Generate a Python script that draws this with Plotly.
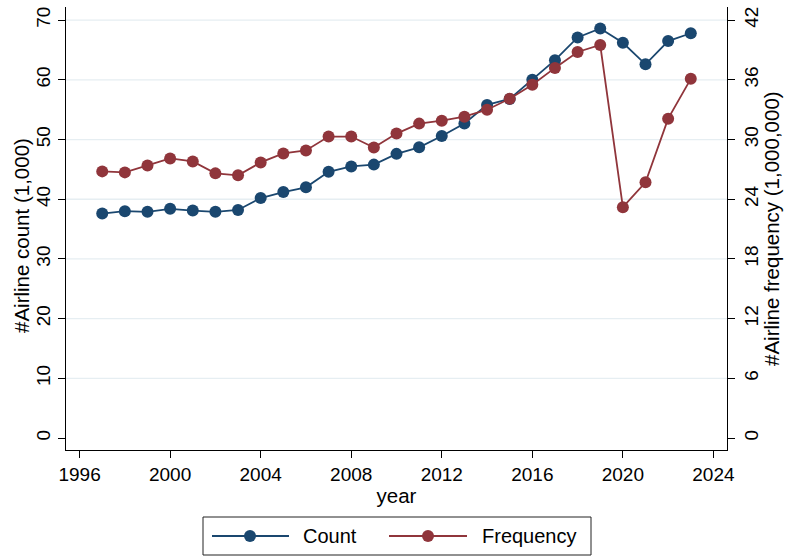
import plotly.graph_objects as go

years = list(range(1997, 2024))
count = [37.6, 38.0, 37.9, 38.4, 38.1, 37.9, 38.2, 40.2, 41.2, 42.0, 44.6, 45.5, 45.8,
         47.6, 48.7, 50.6, 52.7, 55.8, 56.8, 60.0, 63.3, 67.1, 68.6, 66.2, 62.6, 66.5, 67.8]
frequency = [26.8, 26.7, 27.4, 28.1, 27.8, 26.6, 26.4, 27.7, 28.6, 28.9, 30.3, 30.3, 29.2,
             30.6, 31.6, 31.9, 32.3, 33.0, 34.1, 35.5, 37.2, 38.8, 39.5, 23.2, 25.7, 32.1, 36.1]
x_ticks = list(range(1996, 2025, 4))
y_ticks = list(range(0, 71, 10))
y2_ticks = list(range(0, 43, 6))
grid_vals = y_ticks[1:]

NAVY = "#1a476f"
MAROON = "#90353b"
FONT = "Liberation Sans"
FS = 19
TS = 20.5

fig = go.Figure()
fig.add_trace(go.Scatter(x=years, y=count, mode="lines+markers", name="Count",
                         line=dict(color=NAVY, width=1.8),
                         marker=dict(color=NAVY, size=12), yaxis="y"))
fig.add_trace(go.Scatter(x=years, y=frequency, mode="lines+markers", name="Frequency",
                         line=dict(color=MAROON, width=1.8),
                         marker=dict(color=MAROON, size=12), yaxis="y2"))

px0, px1, py0, py1 = 66, 727, 7, 450
W, H = px1 - px0, py1 - py0
def X(p): return (p - px0) / W
def Y(p): return (py1 - p) / H

shapes = []
# gridlines (Stata draws none at 0)
for g in grid_vals:
    shapes.append(dict(type="line", xref="paper", yref="y", x0=0, x1=1, y0=g, y1=g,
                       line=dict(color="#e6eef2", width=1.3), layer="below"))

# Manual legend (Stata-style, long sample lines)
shapes.append(dict(type="rect", xref="paper", yref="paper", x0=X(203), x1=X(591), y0=Y(555), y1=Y(517),
                   line=dict(color="#222222", width=1), fillcolor="white", layer="above"))
annotations = []
ly = Y(536)
for (l0, l1, mx, tx, col, name) in [(212, 289, 250, 301, NAVY, "Count"),
                                     (389, 467, 428, 480, MAROON, "Frequency")]:
    shapes.append(dict(type="line", xref="paper", yref="paper", x0=X(l0), x1=X(l1), y0=ly, y1=ly,
                       line=dict(color=col, width=1.8)))
    shapes.append(dict(type="circle", xref="paper", yref="paper", xsizemode="pixel", ysizemode="pixel",
                       xanchor=X(mx), yanchor=ly, x0=-6, x1=6, y0=-6, y1=6,
                       fillcolor=col, line=dict(color=col, width=0)))
    annotations.append(dict(xref="paper", yref="paper", x=X(tx), y=ly, xanchor="left", yanchor="middle",
                            text=name, showarrow=False, font=dict(family=FONT, size=20, color="black")))

# axis titles placed like Stata's
annotations.append(dict(xref="paper", yref="paper", x=X(21), y=Y(236), xanchor="center", yanchor="middle",
                        text="#Airline count (1,000)", textangle=-90, showarrow=False,
                        font=dict(family=FONT, size=TS, color="black")))
annotations.append(dict(xref="paper", yref="paper", x=X(771), y=Y(229), xanchor="center", yanchor="middle",
                        text="#Airline frequency (1,000,000)", textangle=-90, showarrow=False,
                        font=dict(family=FONT, size=TS, color="black")))

fig.update_layout(
    width=785, height=559,
    margin=dict(l=px0, r=785 - px1, t=py0, b=559 - py1, autoexpand=False),
    paper_bgcolor="white", plot_bgcolor="white",
    showlegend=False,
    font=dict(family=FONT, size=FS, color="black"),
    xaxis=dict(range=[1995.4, 2024.6], tickvals=x_ticks, showgrid=False, zeroline=False, automargin=False,
               showline=True, linecolor="black", linewidth=1, ticks="outside", ticklen=7,
               tickcolor="black", tickfont=dict(family=FONT, size=FS, color="black"),
               title=dict(text="year", standoff=4, font=dict(family=FONT, size=TS, color="black"))),
    yaxis=dict(range=[-2.0, 72.2], tickvals=y_ticks, showgrid=False, automargin=False,
               zeroline=False, showline=True, linecolor="black", linewidth=1, ticks="outside", ticklen=7,
               tickcolor="black", tickangle=-90, tickfont=dict(family=FONT, size=FS, color="black")),
    yaxis2=dict(range=[-1.2, 43.32], tickvals=y2_ticks, overlaying="y", side="right", showgrid=False,
                automargin=False,
                zeroline=False, showline=True, linecolor="black", linewidth=1, ticks="outside", ticklen=7,
                tickcolor="black", tickangle=-90, tickfont=dict(family=FONT, size=FS, color="black")),
    shapes=shapes, annotations=annotations,
)
fig.write_html("out.html", config={"displayModeBar": False},
               post_script="document.body.style.margin='0';document.body.style.overflow='hidden';")
